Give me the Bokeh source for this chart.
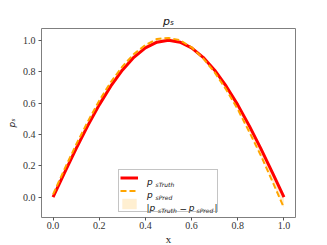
import math
from bokeh.plotting import figure
from bokeh.models import Label, Legend, LegendItem, FixedTicker, Range1d
from bokeh.embed import file_html
from bokeh.resources import INLINE

# ---- data ----
x_vals = [0.0, 0.05, 0.1, 0.15, 0.2, 0.25, 0.3, 0.35, 0.4, 0.45, 0.5,
          0.55, 0.6, 0.65, 0.7, 0.75, 0.8, 0.85, 0.9, 0.95, 1.0]
ps_truth = [0.0, 0.156, 0.309, 0.454, 0.588, 0.707, 0.809, 0.891, 0.951, 0.988, 1.0,
            0.988, 0.951, 0.891, 0.809, 0.707, 0.588, 0.454, 0.309, 0.156, 0.0]
ps_pred = [0.017, 0.18, 0.335, 0.48, 0.615, 0.733, 0.832, 0.912, 0.97, 1.008, 1.015,
           1.0, 0.955, 0.885, 0.795, 0.685, 0.56, 0.415, 0.265, 0.1, -0.068]
x_ticks = [0.0, 0.2, 0.4, 0.6, 0.8, 1.0]
x_tick_labels = ["0.0", "0.2", "0.4", "0.6", "0.8", "1.0"]
y_ticks = [0.0, 0.2, 0.4, 0.6, 0.8, 1.0]
y_tick_labels = ["0.0", "0.2", "0.4", "0.6", "0.8", "1.0"]

# ---- layout ----
FW, FH = 254, 189
X0, X1 = -0.05, 1.05
Y0, Y1 = -0.13, 1.075


def dx(px):
    return X0 + px * (X1 - X0) / FW


def dy(py):
    return Y0 + py * (Y1 - Y0) / FH


p = figure(frame_width=FW, frame_height=FH,
           x_range=Range1d(X0, X1), y_range=Range1d(Y0, Y1),
           output_backend="svg", toolbar_location=None,
           min_border_left=41, min_border_right=32,
           min_border_top=28, min_border_bottom=28)
p.background_fill_color = "white"
p.border_fill_color = "white"
p.outline_line_color = "#7f7f7f"
p.outline_line_width = 1
p.xgrid.visible = False
p.ygrid.visible = False

p.title.text = "p\u209b"
p.title.align = "center"
p.title.text_font = "DejaVu Sans"
p.title.text_font_style = "italic"
p.title.text_font_size = "11px"
p.title.text_color = "#111111"
p.title.standoff = 1

for ax, ticks, labels in ((p.xaxis[0], x_ticks, x_tick_labels),
                          (p.yaxis[0], y_ticks, y_tick_labels)):
    ax.ticker = FixedTicker(ticks=ticks)
    ax.major_label_overrides = {t: l for t, l in zip(ticks, labels)}
    ax.axis_line_color = None
    ax.major_tick_in = 0
    ax.major_tick_out = 3
    ax.major_tick_line_color = "#555555"
    ax.minor_tick_line_color = None
    ax.major_label_text_font = "Liberation Serif"
    ax.major_label_text_font_size = "10px"
    ax.major_label_text_color = "#333333"
    ax.axis_label_standoff = 1
p.xaxis.major_label_standoff = 1
p.yaxis.major_label_standoff = 3
p.xaxis.axis_label = "x"
p.xaxis.axis_label_text_font = "Liberation Serif"
p.xaxis.axis_label_text_font_style = "normal"
p.xaxis.axis_label_text_font_size = "11px"
p.xaxis.axis_label_text_color = "#222222"
p.yaxis.axis_label = "p\u209b"
p.yaxis.axis_label_text_font = "DejaVu Sans"
p.yaxis.axis_label_text_font_style = "italic"
p.yaxis.axis_label_text_font_size = "9px"
p.yaxis.axis_label_text_color = "#222222"
p.yaxis.axis_label_standoff = 3

r_area = p.varea(x=x_vals, y1=ps_truth, y2=ps_pred, fill_color="orange", fill_alpha=0.18)
r_truth = p.line(x_vals, ps_truth, line_color="red", line_width=3)
r_pred = p.line(x_vals, ps_pred, line_color="orange", line_width=2, line_dash="6 3")

legend = Legend(items=[LegendItem(label=" ", renderers=[r_truth]),
                       LegendItem(label=" ", renderers=[r_pred]),
                       LegendItem(label=" ", renderers=[r_area])],
                location="bottom_center", margin=5, padding=1, spacing=0,
                glyph_width=18, glyph_height=13, label_height=13, label_width=71,
                label_standoff=7, label_text_font_size="1px",
                border_line_color="#8a8a8a", border_line_width=1,
                background_fill_alpha=0.0)
p.add_layout(legend, "center")


def txt(px, py, s, size, style="italic"):
    p.add_layout(Label(x=dx(px), y=dy(py), text=s, text_font="DejaVu Sans",
                       text_font_style=style, text_font_size=size, text_align="left",
                       text_baseline="alphabetic", text_color="#111111", level="overlay"))


# legend texts
rows = [38.5, 25.5, 12.5]
txt(105.5, rows[0] - 3.3, "p", "9px")
txt(114.0, rows[0] - 5.7, "sTruth", "6px")
txt(105.5, rows[1] - 3.3, "p", "9px")
txt(114.0, rows[1] - 5.7, "sPred", "6px")
txt(105.0, rows[2] - 3.3, "|", "9px", style="normal")
txt(108.0, rows[2] - 3.3, "p", "9px")
txt(116.5, rows[2] - 5.7, "sTruth", "6px")
txt(138.0, rows[2] - 3.3, "\u2212", "9px", style="normal")
txt(147.3, rows[2] - 3.3, "p", "9px")
txt(155.0, rows[2] - 5.7, "sPred", "6px")
txt(173.0, rows[2] - 3.3, "|", "9px", style="normal")

open("out.html", "w").write(file_html(p, INLINE))
